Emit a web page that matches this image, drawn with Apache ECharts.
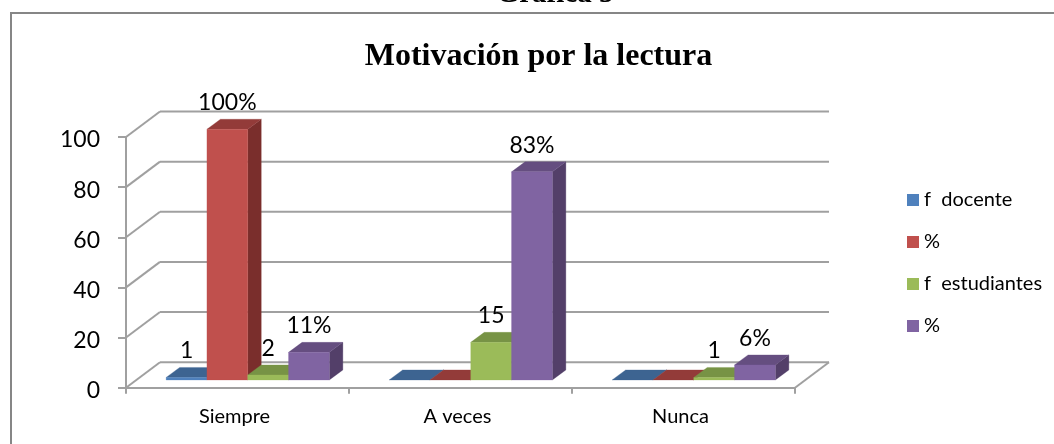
<!DOCTYPE html>
<html>
<head>
<meta charset="utf-8">
<style>html,body{margin:0;padding:0;background:#fff;overflow:hidden}#c{width:1054px;height:444px}</style>
<script src="https://cdn.jsdelivr.net/npm/echarts@6/dist/echarts.min.js"></script>
</head>
<body>
<div id="c"></div>
<script>
const categories = ['Siempre', 'A veces', 'Nunca'];
const yTicks = [0, 20, 40, 60, 80, 100];
const fDocente = [1, 0, 0];
const pctDocente = [100, 0, 0];
const fEstudiantes = [2, 15, 1];
const pctEstudiantes = [11, 83, 6];
const seriesNames = ['f  docente', '%', 'f  estudiantes', '% '];

const WALL_X = 34, WALL_Y = 25.5, DEPTH_X = 13.5, DEPTH_Y = 10, BAR_W = 40.8;
const FONT = 'Lato, Carlito, sans-serif';
const GRID = '#a0a0a0';

function barRenderer(seriesIndex, colors, suffix) {
  return function (params, api) {
    const idx = api.value(0), val = api.value(1);
    const base = api.coord([idx, 0]);
    const top = api.coord([idx, val]);
    const frontX = (WALL_X - DEPTH_X) / 2, frontY = (WALL_Y - DEPTH_Y) / 2;
    const x0 = base[0] + frontX + (seriesIndex - 2) * BAR_W;
    const x1 = x0 + BAR_W;
    const yb = base[1] - frontY, yt = top[1] - frontY;
    const children = [];
    const poly = (points, fill) => children.push({ type: 'polygon', shape: { points }, style: { fill, stroke: fill, lineWidth: 0.3 } });
    poly([[x1, yb], [x1 + DEPTH_X, yb - DEPTH_Y], [x1 + DEPTH_X, yt - DEPTH_Y], [x1, yt]], colors[2]);
    poly([[x0, yt], [x0 + DEPTH_X, yt - DEPTH_Y], [x1 + DEPTH_X, yt - DEPTH_Y], [x1, yt]], colors[1]);
    if (val > 0) poly([[x0, yb], [x1, yb], [x1, yt], [x0, yt]], colors[0]);
    if (val > 0) children.push({
      type: 'text', z2: 100,
      style: { x: (x0 + x1) / 2, y: yt - 15, text: val + suffix, fill: '#000', font: '23px ' + FONT, textAlign: 'center', textVerticalAlign: 'bottom' }
    });
    return { type: 'group', children };
  };
}

function wallRenderer(params, api) {
  const v = api.value(0);
  const p = api.coord([0, v]);
  const x = p[0] - api.size([1, 0])[0] / 2;
  const xr = x + api.size([1, 0])[0] * categories.length;
  const line = (a, b) => ({ type: 'line', shape: { x1: a[0], y1: a[1], x2: b[0], y2: b[1] }, style: { stroke: GRID, lineWidth: 2 } });
  const children = [line([x, p[1]], [x + WALL_X, p[1] - WALL_Y]), line([x + WALL_X, p[1] - WALL_Y], [xr + WALL_X, p[1] - WALL_Y])];
  if (v === 0) children.push(line([xr, p[1]], [xr + WALL_X, p[1] - WALL_Y]));
  return { type: 'group', children };
}

const barSets = [
  [fDocente, ['#4F81BD', '#3D6491', '#325378'], ''],
  [pctDocente, ['#C0504D', '#933B39', '#7A2E2C'], '%'],
  [fEstudiantes, ['#9BBB59', '#779345', '#617A37'], ''],
  [pctEstudiantes, ['#8064A2', '#654E80', '#533F69'], '%']
];

const chart = echarts.init(document.getElementById('c'), null, { renderer: 'canvas' });
chart.setOption({
  animation: false,
  backgroundColor: '#fff',
  title: [
    { text: 'Motivación por la lectura', left: 533.5, top: 36, textAlign: 'center',
      textStyle: { fontFamily: 'Liberation Serif', fontWeight: 'bold', fontSize: 32, color: '#000' } },
    { text: 'Gráfica 5', left: 550, top: -25, textAlign: 'center',
      textStyle: { fontFamily: 'Liberation Serif', fontWeight: 'bold', fontSize: 29, color: '#000' } }
  ],
  legend: {
    left: 902, top: 185, orient: 'vertical', itemWidth: 12, itemHeight: 12, itemGap: 22, icon: 'rect',
    data: seriesNames, selectedMode: false,
    formatter: n => n.trim(),
    textStyle: { fontFamily: FONT, fontSize: 20, color: '#000', padding: [0, 0, 0, 0], height: 18, lineHeight: 18 }
  },
  grid: { left: 126, width: 669, top: 137, height: 250.7, containLabel: false },
  xAxis: {
    type: 'category', data: categories, boundaryGap: true,
    axisLine: { lineStyle: { color: GRID, width: 2 } },
    axisTick: { show: true, alignWithLabel: false, length: 6, lineStyle: { color: GRID, width: 2 } },
    axisLabel: { fontFamily: FONT, fontSize: 20, color: '#000', margin: 19, padding: [0, 6, 0, 0] }
  },
  yAxis: {
    type: 'value', min: yTicks[0], max: yTicks[yTicks.length - 1], interval: yTicks[1] - yTicks[0],
    axisLine: { show: true, lineStyle: { color: GRID, width: 2 } },
    axisTick: { show: true, length: 8, lineStyle: { color: GRID, width: 2 } },
    splitLine: { show: false },
    axisLabel: {
      margin: 26, formatter: '{a|{value}}',
      rich: { a: { fontFamily: FONT, fontSize: 23, color: '#000', padding: [6, 0, 0, 0] } }
    }
  },
  series: [
    { type: 'custom', name: 'walls', silent: true, z: 1, coordinateSystem: 'cartesian2d',
      data: yTicks.map(v => [v]), encode: { y: 0 }, renderItem: wallRenderer, clip: false },
    ...barSets.map((s, i) => ({
      type: 'custom', name: seriesNames[i], z: 2 + i, coordinateSystem: 'cartesian2d',
      itemStyle: { color: s[1][0] }, clip: false,
      data: s[0].map((v, k) => [k, v]), encode: { x: 0, y: 1 },
      renderItem: barRenderer(i, s[1], s[2])
    }))
  ],
  graphic: [{
    type: 'rect', z: 0, silent: true,
    shape: { x: 11, y: 13, width: 1100, height: 500 },
    style: { fill: 'none', stroke: '#868686', lineWidth: 2 }
  }]
});
</script>
</body>
</html>
